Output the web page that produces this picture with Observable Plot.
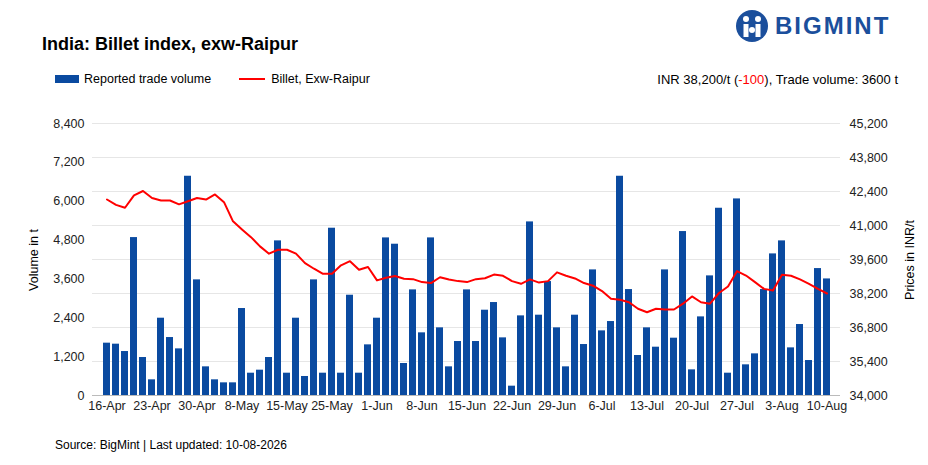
<!DOCTYPE html>
<html><head><meta charset="utf-8">
<script src="https://cdn.jsdelivr.net/npm/d3@7"></script>
<script src="https://cdn.jsdelivr.net/npm/@observablehq/plot@0.6"></script>
<style>
body{margin:0;background:#fff;font-family:"Liberation Sans",Arial,sans-serif;}
#wrap{position:relative;width:928px;height:465px;overflow:hidden;}
.abs{position:absolute;white-space:nowrap;}
</style></head><body><div id="wrap">
<div class="abs" style="left:42px;top:34px;font-size:18px;font-weight:bold;color:#000">India: Billet index, exw-Raipur</div>
<div class="abs" style="left:735px;top:8px;height:36px;display:flex;align-items:center;">
<svg width="34" height="34"><circle cx="17" cy="17" r="16" fill="#1b4f9c"/><circle cx="11" cy="10" r="3" fill="#fff"/><circle cx="23" cy="10" r="3" fill="#fff"/><rect x="8.5" y="15" width="5" height="13" fill="#fff"/><rect x="20.5" y="15" width="5" height="13" fill="#fff"/><circle cx="17" cy="21" r="3" fill="#fff"/></svg>
<span style="font-size:24px;font-weight:bold;color:#1b4f9c;margin-left:6px;letter-spacing:2px">BIGMINT</span></div>
<div class="abs" style="left:55px;top:72px;font-size:12.5px;display:flex;align-items:center"><span style="display:inline-block;width:24px;height:8px;background:#0a4aa0;margin-right:5px"></span>Reported trade volume<span style="display:inline-block;width:26px;height:2px;background:#f00;margin:0 6px 0 28px"></span>Billet, Exw-Raipur</div>
<div class="abs" style="right:30px;top:72px;font-size:13px">INR 38,200/t (<span style="color:#f00">-100</span>), Trade volume: 3600 t</div>
<div class="abs" style="top:260px;font-size:12.5px;transform:translate(-50%,-50%) rotate(-90deg);left:34px">Volume in t</div>
<div class="abs" style="top:260px;font-size:12.5px;transform:translate(-50%,-50%) rotate(-90deg);left:910px">Prices in INR/t</div>
<div id="chart" class="abs" style="left:0;top:105px"></div>
<div class="abs" style="left:55px;top:438px;font-size:12px">Source: BigMint | Last updated: 10-08-2026</div>
</div>
<script>
const volumes=[1616,1585,1358,4877,1173,484,2387,1790,1440,6771,3571,885,484,391,391,2686,689,782,1173,4775,689,2387,587,3571,689,5166,689,3097,689,1564,2387,4867,4672,988,3262,1935,4867,2089,885,1667,3262,1667,2634,2871,1780,288,2459,5361,2480,3519,2089,885,2480,1574,3879,1996,2284,6771,3272,1235,2089,1492,3879,1770,5063,792,2428,3694,5783,689,6071,947,1286,3272,4373,4775,1471,2192,1080,3920,3600];
const prices=[42070,41850,41730,42240,42420,42130,42030,42030,41870,42000,42130,42070,42280,41960,41170,40840,40520,40140,39840,40000,40000,39840,39450,39220,39010,39010,39360,39530,39180,39290,38740,38850,38920,38810,38790,38670,38630,38870,38780,38710,38670,38790,38830,38980,38930,38710,38600,38780,38650,38710,39070,38930,38820,38630,38520,38300,37980,37940,37840,37570,37430,37570,37540,37540,37780,38080,37840,37780,38220,38490,39120,38940,38670,38390,38320,38970,38930,38780,38600,38390,38200];
const tickIdx=[1,6,11,16,21,26,31,36,41,46,51,56,61,66,71,76,81];
const tickLabels=["16-Apr","23-Apr","30-Apr","8-May","15-May","25-May","1-Jun","8-Jun","15-Jun","22-Jun","29-Jun","6-Jul","13-Jul","20-Jul","27-Jul","3-Aug","10-Aug"];
const leftTicks=[0,1200,2400,3600,4800,6000,7200,8400];
const rightTicks=[34000,35400,36800,38200,39600,41000,42400,43800,45200];
const pMin=34000,pMax=45200,vMax=8400;
const toL=p=>(p-pMin)/(pMax-pMin)*vMax;
const n=volumes.length;
const bars=volumes.map((v,i)=>({i:i+1,v}));
const line=prices.map((p,i)=>({i:i+1,p:toL(p)}));
const lab=new Map(tickIdx.map((t,k)=>[t,tickLabels[k]]));
const chart=Plot.plot({
 width:928,height:320,marginTop:18,marginBottom:30,marginLeft:92,marginRight:88,
 style:{fontFamily:"Liberation Sans, Arial, sans-serif",fontSize:"12.5px",color:"#222"},
 x:{type:"band",domain:d3.range(1,n+1),paddingInner:0.25,paddingOuter:0.12,label:null},
 y:{domain:[0,vMax],label:null},
 marks:[
  Plot.gridY(rightTicks.map(toL),{stroke:"#e6e6e6",strokeOpacity:1,strokeWidth:1.2}),
  Plot.barY(bars,{x:"i",y:"v",fill:"#0a4aa0"}),
  Plot.line(line,{x:"i",y:"p",stroke:"#f00",strokeWidth:2}),
  Plot.ruleY([0],{stroke:"#bbb"}),
  Plot.axisX({ticks:tickIdx,tickFormat:d=>lab.get(d),tickSize:0,tickPadding:6,label:null}),
  Plot.axisY({ticks:leftTicks,tickFormat:d3.format(","),tickSize:0,tickPadding:8,label:null}),
  Plot.axisY({anchor:"right",ticks:rightTicks.map(toL),tickFormat:d=>d3.format(",")(Math.round(pMin+d/vMax*(pMax-pMin))),tickSize:0,tickPadding:9,label:null})
 ]
});
document.getElementById("chart").appendChild(chart);
</script></body></html>
